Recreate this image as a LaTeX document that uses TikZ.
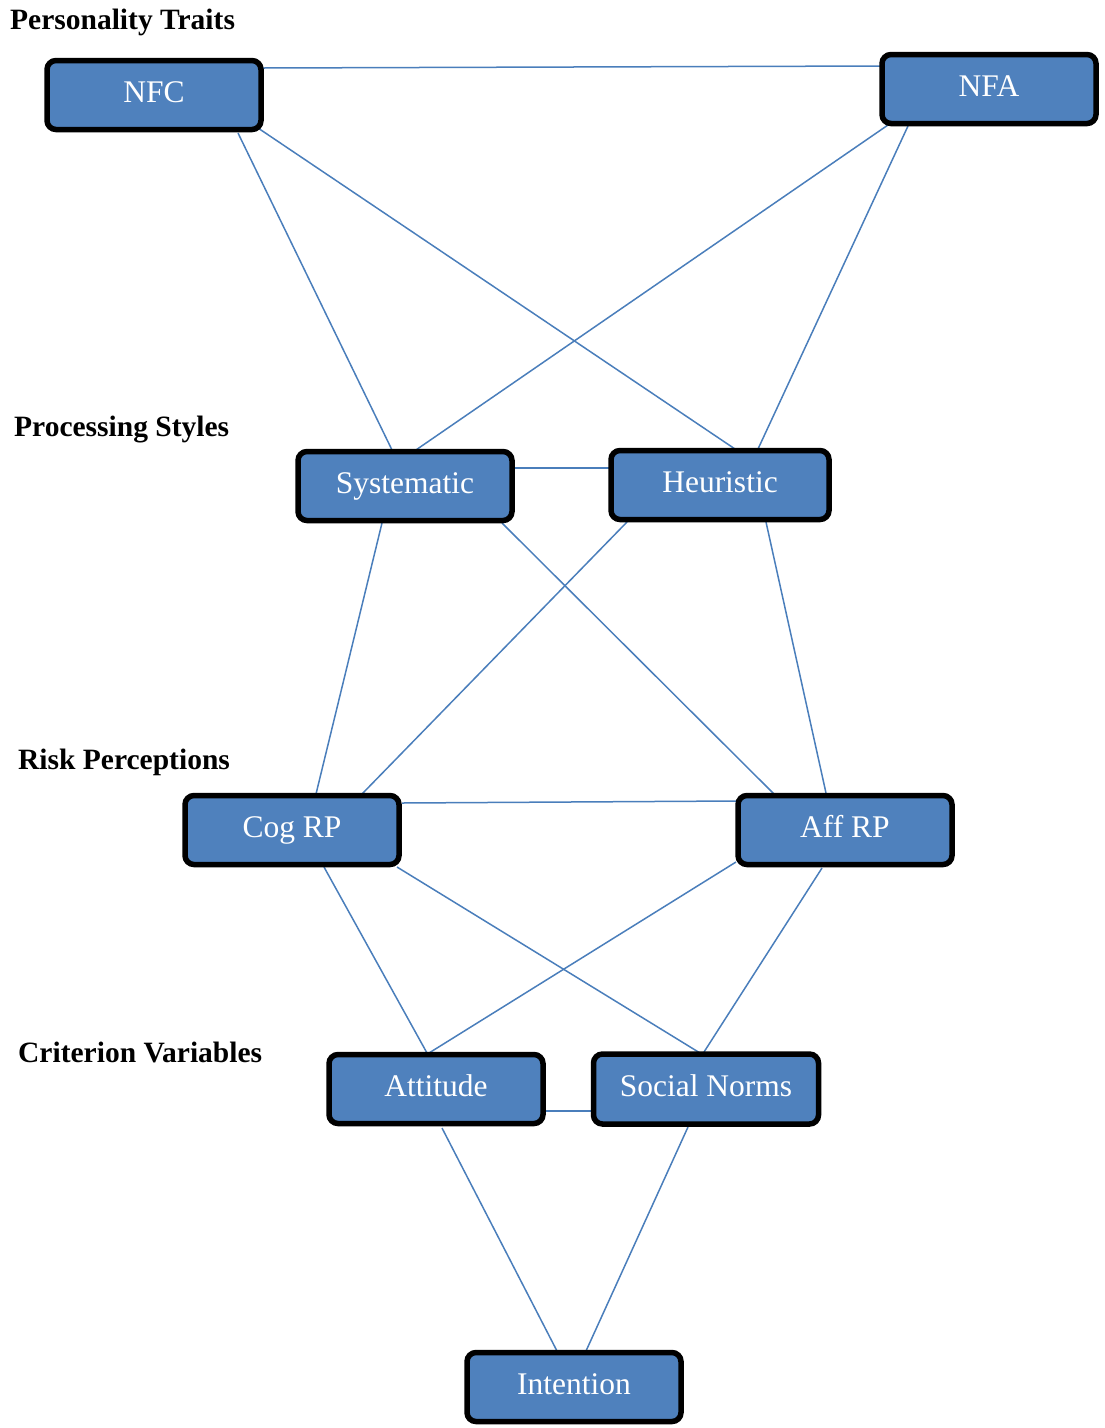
\documentclass[tikz,border=0pt]{standalone}
\usepackage{fontspec}
\setmainfont{Liberation Serif}
\usetikzlibrary{calc,backgrounds}
\definecolor{boxblue}{HTML}{4F81BD}
\definecolor{lineblue}{HTML}{4A7EBB}
\begin{document}
\begin{tikzpicture}[x=1pt,y=-1pt,
  box/.style={draw=black, line width=5.5pt, fill=boxblue, rounded corners=9pt,
    minimum width=214pt, minimum height=69pt, inner sep=0pt, text=white,
    text height=22pt, text depth=8pt,
    font=\fontsize{31.5}{36}\selectfont},
  grouplabel/.style={anchor=base west, inner sep=0pt, font=\fontsize{29.5}{33}\selectfont\bfseries},
  link/.style={draw=lineblue, line width=1.5pt}]
\useasboundingbox (0,0) rectangle (1104,1428);

\node[grouplabel] (lpt) at (10,29) {Personality Traits};
\node[grouplabel] (lps) at (14,436) {Processing Styles};
\node[grouplabel] (lrp) at (18,769) {Risk Perceptions};
\node[grouplabel] (lcv) at (18,1062) {Criterion Variables};

\node[box] (nfc) at (154,95) {NFC};
\node[box] (nfa) at (989,89) {NFA};
\node[box] (sys) at (405,486) {Systematic};
\node[box, minimum width=218pt] (heu) at (720,485) {Heuristic};
\node[box] (cog) at (292,830) {Cog RP};
\node[box] (aff) at (845,830) {Aff RP};
\node[box] (att) at (436,1089) {Attitude};
\node[box, minimum width=225pt, minimum height=70pt] (sn) at (706,1089) {Social Norms};
\node[box] (int) at (574,1387) {Intention};

\begin{scope}[on background layer]
\draw[link] ($(nfc)+(109,-27)$) -- ($(nfa)+(-108,-23)$);
\draw[link] ($(nfc)+(84,38)$) -- ($(sys)+(-13,-36)$);
\draw[link] ($(nfc)+(104,33)$) -- ($(heu)+(15,-36)$);
\draw[link] ($(nfa)+(-101,36)$) -- ($(sys)+(8,-34)$);
\draw[link] ($(nfa)+(-81,37)$) -- ($(heu)+(38,-36)$);
\draw[link] ($(sys)+(110,-18)$) -- ($(heu)+(-111,-17)$);
\draw[link] ($(sys)+(-23,37)$) -- ($(cog)+(24,-36)$);
\draw[link] ($(sys)+(97,37)$) -- ($(aff)+(-71,-36)$);
\draw[link] ($(heu)+(-93,37)$) -- ($(cog)+(70,-36)$);
\draw[link] ($(heu)+(46,37)$) -- ($(aff)+(-19,-37)$);
\draw[link] ($(cog)+(110,-27)$) -- ($(aff)+(-109,-29)$);
\draw[link] ($(cog)+(32,37)$) -- ($(att)+(-9,-36)$);
\draw[link] ($(cog)+(105,37)$) -- ($(sn)+(-6,-36)$);
\draw[link] ($(aff)+(-109,32)$) -- ($(att)+(-7,-36)$);
\draw[link] ($(aff)+(-23,38)$) -- ($(sn)+(-2,-37)$);
\draw[link] ($(att)+(110,22)$) -- ($(sn)+(-115,22)$);
\draw[link] ($(att)+(6,39)$) -- ($(int)+(-17,-36)$);
\draw[link] ($(sn)+(-18,38)$) -- ($(int)+(12,-36)$);
\end{scope}
\end{tikzpicture}
\end{document}
